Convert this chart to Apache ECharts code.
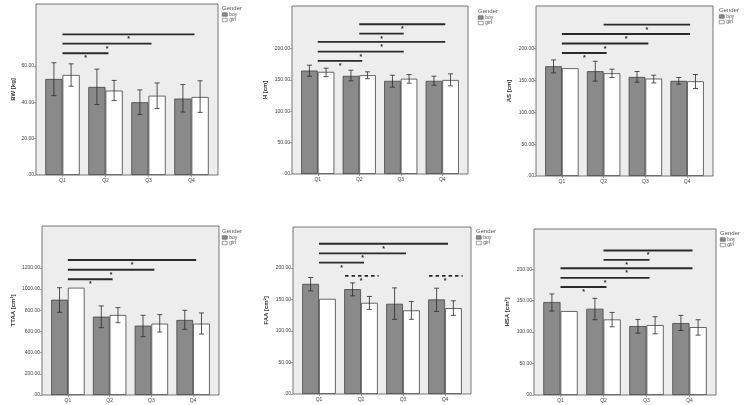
<!DOCTYPE html>
<html>
<head>
<meta charset="utf-8">
<script src="https://cdn.jsdelivr.net/npm/echarts@6/dist/echarts.min.js"></script>
<style>html,body{margin:0;padding:0;background:#fff}#c{width:744px;height:405px}</style>
</head>
<body>
<div id="c"></div>
<script>
const categories = ['Q1', 'Q2', 'Q3', 'Q4'];
const legendNames = ['boy', 'girl'];

// BW [kg]
const bwBoy = [52.8, 48.4, 40.0, 42.0];
const bwGirl = [55.0, 46.4, 43.6, 42.9];
const bwBoyErr = [[43.6, 61.7], [38.7, 58.2], [33.3, 46.8], [34.6, 49.7]];
const bwGirlErr = [[48.8, 61.1], [40.9, 52.0], [36.5, 50.6], [34.4, 51.8]];
const bwSig = [[0, 3, 77.3], [0, 2, 72.2], [0, 1, 66.9]];
const bwTicks = [0, 20, 40, 60];

// H [cm]
const hBoy = [165, 156.5, 148.6, 148.6];
const hGirl = [163, 157.6, 152, 150];
const hBoyErr = [[156, 173.6], [148.6, 165.6], [138.5, 157.6], [141.7, 156]];
const hGirlErr = [[155.4, 168.8], [152, 163], [144.9, 158.6], [140.6, 159.7]];
const hSig = [[1, 3, 238.9], [1, 2, 223.9], [0, 3, 210.7], [0, 2, 195.2], [0, 1, 180.4]];
const hTicks = [0, 50, 100, 150, 200];

// AS [cm]
const asBoy = [172.4, 164.6, 155.6, 149.4];
const asGirl = [169.3, 161.4, 153, 148.9];
const asBoyErr = [[162, 182.3], [149, 180.2], [147.3, 164.1], [144.2, 154.7]];
const asGirlErr = [null, [154.7, 167.7], [146.2, 158.3], [137.5, 159.4]];
const asSig = [[1, 3, 237.8], [0, 3, 223], [0, 2, 208], [0, 1, 193.3]];
const asTicks = [0, 50, 100, 150, 200];

// TTAA [cm²]
const ttaaBoy = [899, 739, 654, 708];
const ttaaGirl = [1012, 755, 673, 673];
const ttaaBoyErr = [[780, 1012], [635, 840], [550, 752], [620, 799]];
const ttaaGirlErr = [null, [682, 824], [594, 758], [575, 774]];
const ttaaSig = [[0, 3, 1274], [0, 2, 1182], [0, 1, 1092]];
const ttaaTicks = [0, 200, 400, 600, 800, 1000, 1200];

// FAA [cm²]
const faaBoy = [174.7, 166.4, 143.2, 150];
const faaGirl = [151, 144.7, 132.7, 136.3];
const faaBoyErr = [[163.7, 184.8], [155.8, 176.3], [118.5, 168.4], [131.1, 167.9]];
const faaGirlErr = [null, [134.3, 154.8], [118.5, 146.9], [124.8, 147.9]];
const faaSig = [[0, 3, 238.5], [0, 2, 223.2], [0, 1, 208.5]];
const faaDashed = [[1, 187.4], [3, 187.4]];
const faaTicks = [0, 50, 100, 150, 200];

// HSA [cm²]
const hsaBoy = [147.9, 137.2, 109.6, 114.4];
const hsaGirl = [133.5, 120.2, 111.2, 108];
const hsaBoyErr = [[133.5, 160.7], [119.7, 153.7], [98.4, 120.2], [102.6, 126.6]];
const hsaGirlErr = [null, [108.5, 131.3], [97.3, 124.5], [95.2, 119.7]];
const hsaSig = [[1, 3, 229.8], [1, 2, 214.9], [0, 3, 201.6], [0, 2, 186.2], [0, 1, 171.8]];
const hsaTicks = [0, 50, 100, 150, 200];

const panels = [
  {name: 'BW [kg]', max: 94, boy: bwBoy, girl: bwGirl, boyErr: bwBoyErr, girlErr: bwGirlErr, sig: bwSig, dashed: [], ticks: bwTicks,
   box: {left: 36, top: 4, width: 182, height: 171}, nameGap: 20, leg: [222, 5]},
  {name: 'H [cm]', max: 268, boy: hBoy, girl: hGirl, boyErr: hBoyErr, girlErr: hGirlErr, sig: hSig, dashed: [], ticks: hTicks,
   box: {left: 292, top: 6, width: 176, height: 168}, nameGap: 24, leg: [478, 8]},
  {name: 'AS [cm]', max: 267, boy: asBoy, girl: asGirl, boyErr: asBoyErr, girlErr: asGirlErr, sig: asSig, dashed: [], ticks: asTicks,
   box: {left: 536, top: 6, width: 177, height: 170}, nameGap: 24, leg: [719, 7]},
  {name: 'TTAA [cm²]', max: 1594, boy: ttaaBoy, girl: ttaaGirl, boyErr: ttaaBoyErr, girlErr: ttaaGirlErr, sig: ttaaSig, dashed: [], ticks: ttaaTicks,
   box: {left: 42, top: 226, width: 177, height: 169}, nameGap: 26, leg: [222, 228]},
  {name: 'FAA [cm²]', max: 265, boy: faaBoy, girl: faaGirl, boyErr: faaBoyErr, girlErr: faaGirlErr, sig: faaSig, dashed: faaDashed, ticks: faaTicks,
   box: {left: 293, top: 227, width: 178, height: 167}, nameGap: 24, leg: [476, 228]},
  {name: 'HSA [cm²]', max: 264, boy: hsaBoy, girl: hsaGirl, boyErr: hsaBoyErr, girlErr: hsaGirlErr, sig: hsaSig, dashed: [], ticks: hsaTicks,
   box: {left: 534, top: 229, width: 182, height: 166}, nameGap: 24, leg: [720, 230]}
];

const FONT = 'Liberation Sans, Arial, sans-serif';
const INK = '#2a2a2a';
const PAD = 5;
const BOY_COLOR = '#8a8a8a';
const GIRL_COLOR = '#ffffff';

function fmt(v) { return v === 0 ? '.00' : v.toFixed(2); }

function errRender(params, api) {
  const idx = api.value(0);
  const side = api.value(3);
  const band = api.size([1, 0])[0];
  const hi = api.coord([idx, api.value(2)]);
  const lo = api.coord([idx, api.value(1)]);
  const x = hi[0] + side * band * 0.2;
  const cap = 2.5;
  const st = {stroke: INK, lineWidth: 0.8};
  return {type: 'group', children: [
    {type: 'line', shape: {x1: x, y1: hi[1], x2: x, y2: lo[1]}, style: st},
    {type: 'line', shape: {x1: x - cap, y1: hi[1], x2: x + cap, y2: hi[1]}, style: st},
    {type: 'line', shape: {x1: x - cap, y1: lo[1], x2: x + cap, y2: lo[1]}, style: st}
  ]};
}

function sigRender(params, api) {
  const a = api.coord([api.value(0), api.value(2)]);
  const b = api.coord([api.value(1), api.value(2)]);
  const x2 = b[0] + 3;
  return {type: 'group', children: [
    {type: 'line', shape: {x1: a[0], y1: a[1], x2: x2, y2: a[1]}, style: {stroke: INK, lineWidth: 1.9}},
    {type: 'text', style: {text: '*', x: (a[0] + x2) / 2, y: a[1] + 1.5, fontSize: 7, fontWeight: 'bold', fill: INK, align: 'center', verticalAlign: 'top', fontFamily: FONT}}
  ]};
}

function dashRender(params, api) {
  const idx = api.value(0);
  const band = api.size([1, 0])[0];
  const c = api.coord([idx, api.value(1)]);
  return {type: 'group', children: [
    {type: 'line', shape: {x1: c[0] - band * 0.38, y1: c[1], x2: c[0] + band * 0.42, y2: c[1]}, style: {stroke: INK, lineWidth: 1.6, lineDash: [3.5, 3]}},
    {type: 'text', style: {text: '*', x: c[0], y: c[1] + 1.5, fontSize: 7, fontWeight: 'bold', fill: INK, align: 'center', verticalAlign: 'top', fontFamily: FONT}}
  ]};
}

const grid = [], xAxis = [], yAxis = [], series = [], legend = [], title = [], graphic = [];

panels.forEach((p, i) => {
  const b = p.box;
  graphic.push({type: 'rect', z: -10, shape: {x: b.left, y: b.top, width: b.width, height: b.height},
    style: {fill: '#ededed', stroke: '#555', lineWidth: 0.8}});
  grid.push({left: b.left + PAD, top: b.top, width: b.width - 2 * PAD, height: b.height, containLabel: false});
  xAxis.push({type: 'category', gridIndex: i, data: categories,
    axisLine: {show: false},
    axisTick: {show: true, alignWithLabel: true, length: 2, lineStyle: {color: '#666', width: 0.6}},
    axisLabel: {fontSize: 5, color: '#444', margin: 3, fontFamily: FONT}});
  yAxis.push({type: 'value', gridIndex: i, min: 0, max: p.max, offset: PAD,
    name: p.name, nameLocation: 'middle', nameGap: p.nameGap,
    nameTextStyle: {fontSize: 6, fontWeight: 'bold', color: '#333', fontFamily: FONT},
    axisLine: {show: false}, splitLine: {show: false},
    axisTick: {show: true, length: 2, customValues: p.ticks, lineStyle: {color: '#666', width: 0.6}},
    axisLabel: {fontSize: 5, color: '#444', margin: 2, fontFamily: FONT, customValues: p.ticks, formatter: fmt}});
  series.push({type: 'bar', name: 'boy', xAxisIndex: i, yAxisIndex: i, data: p.boy,
    barWidth: '40%', barGap: '0%',
    itemStyle: {color: BOY_COLOR, borderColor: '#444', borderWidth: 0.8}});
  series.push({type: 'bar', name: 'girl', xAxisIndex: i, yAxisIndex: i, data: p.girl,
    barWidth: '40%', barGap: '0%',
    itemStyle: {color: GIRL_COLOR, borderColor: '#444', borderWidth: 0.8}});
  const errData = [];
  p.boyErr.forEach((e, k) => { if (e) errData.push([k, e[0], e[1], -1]); });
  p.girlErr.forEach((e, k) => { if (e) errData.push([k, e[0], e[1], 1]); });
  series.push({type: 'custom', xAxisIndex: i, yAxisIndex: i, renderItem: errRender, data: errData,
    encode: {x: 0, y: [1, 2]}, z: 5, silent: true});
  series.push({type: 'custom', xAxisIndex: i, yAxisIndex: i, renderItem: sigRender, data: p.sig,
    encode: {x: [0, 1], y: 2}, z: 5, silent: true});
  if (p.dashed.length) {
    series.push({type: 'custom', xAxisIndex: i, yAxisIndex: i, renderItem: dashRender, data: p.dashed,
      encode: {x: 0, y: 1}, z: 5, silent: true});
  }
  title.push({text: 'Gender', left: p.leg[0], top: p.leg[1], padding: 0,
    textStyle: {fontSize: 6, fontWeight: 'normal', color: '#555', fontFamily: FONT}});
  legend.push({
    data: [
      {name: legendNames[0], itemStyle: {color: BOY_COLOR, borderColor: '#444', borderWidth: 0.5}},
      {name: legendNames[1], itemStyle: {color: GIRL_COLOR, borderColor: '#444', borderWidth: 0.5}}
    ],
    orient: 'vertical', left: p.leg[0], top: p.leg[1] + 7, padding: 0,
    itemWidth: 5, itemHeight: 3.5, itemGap: 0.5, icon: 'rect',
    textStyle: {fontSize: 5, color: '#555', fontFamily: FONT, padding: [0, 0, 0, -3]}});
});

const chart = echarts.init(document.getElementById('c'), null, {renderer: 'canvas'});
chart.setOption({
  backgroundColor: '#ffffff',
  animation: false,
  title: title,
  legend: legend,
  grid: grid,
  xAxis: xAxis,
  yAxis: yAxis,
  graphic: graphic,
  series: series
});
</script>
</body>
</html>
